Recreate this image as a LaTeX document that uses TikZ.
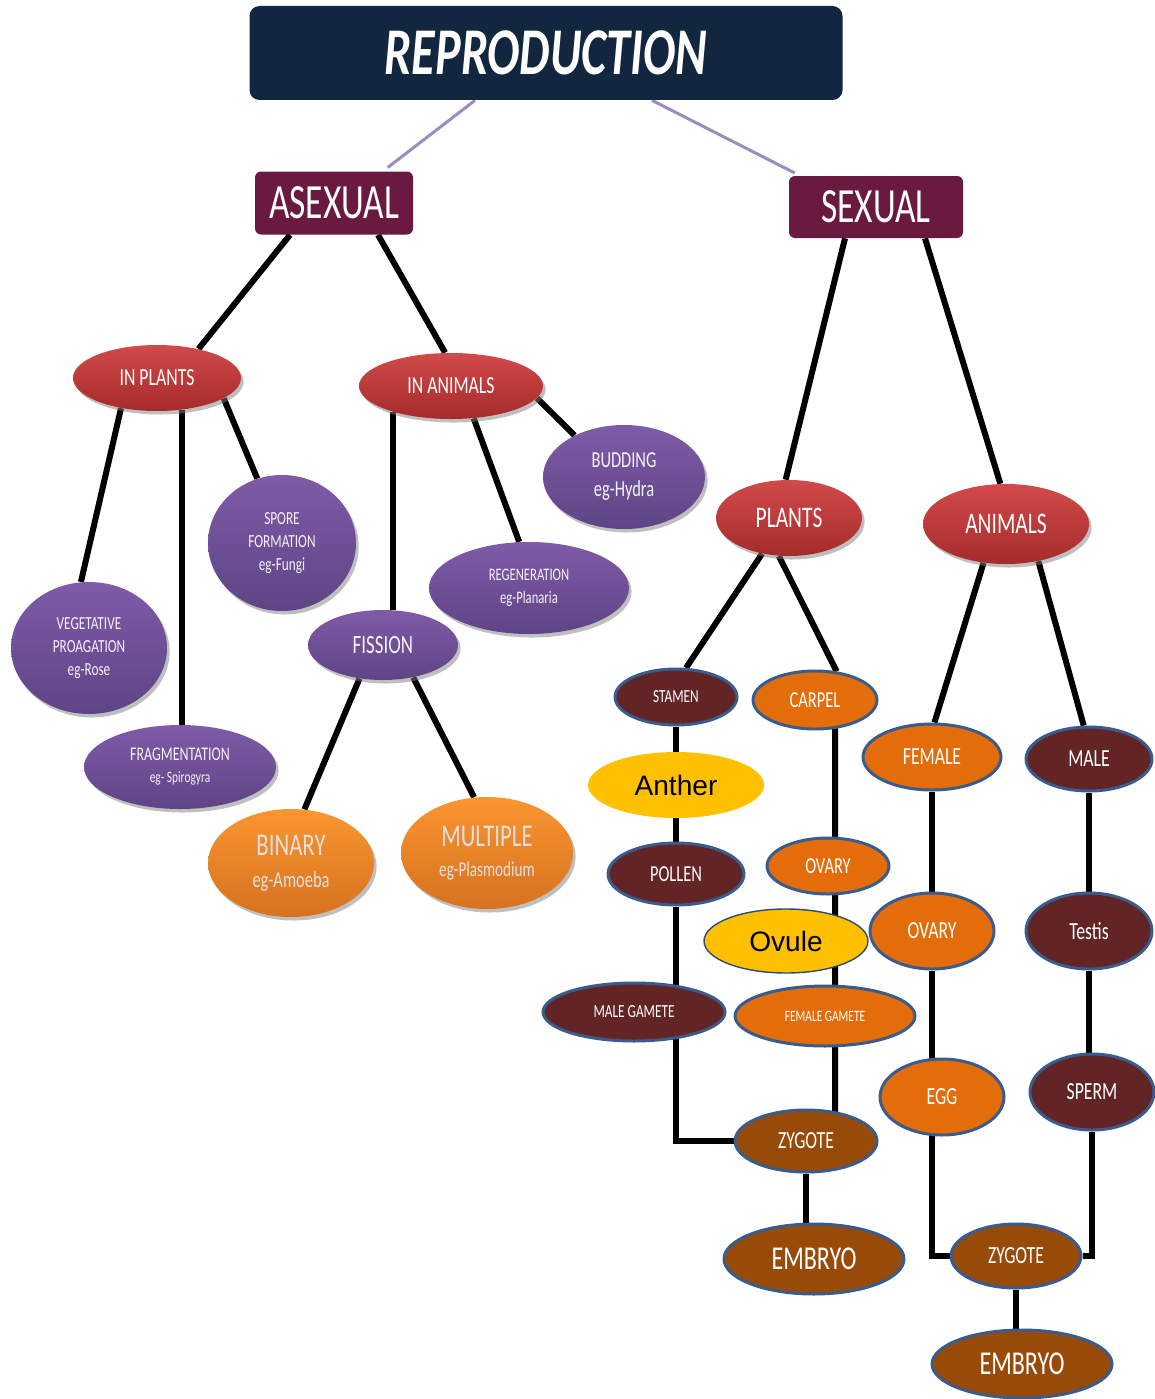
\documentclass[tikz,border=0pt]{standalone}
\usepackage{fontspec}
\setmainfont{Carlito}[FakeStretch=0.72]
\newfontfamily\arialfont{Liberation Sans}
\usepackage{tikz}
\usetikzlibrary{positioning,shapes.geometric,shadows,backgrounds}
\definecolor{repnavy}{HTML}{13263F}
\definecolor{repwine}{HTML}{6A1A40}
\definecolor{repredtop}{HTML}{D24A4A}
\definecolor{repredbot}{HTML}{A52B2B}
\definecolor{reppurtop}{HTML}{7F5BA8}
\definecolor{reppurbot}{HTML}{5E4485}
\definecolor{repsofttop}{HTML}{FA9630}
\definecolor{repsoftbot}{HTML}{D6711F}
\definecolor{repmaroon}{HTML}{622424}
\definecolor{reporange}{HTML}{E36C0B}
\definecolor{repbrown}{HTML}{984A09}
\definecolor{repyellow}{HTML}{FFC000}
\definecolor{repring}{HTML}{3A5C8C}
\definecolor{replav}{HTML}{9A8CBD}
\newcommand\fs[2]{\fontsize{#1}{#2}\selectfont}
\tikzset{
  sz/.style 2 args={minimum width=#1*0.2mm,minimum height=#2*0.2mm},
  headbox/.style={rectangle,rounded corners=2mm,fill=repnavy,text=white,inner sep=0pt,font=\fs{38}{40}\bfseries\itshape},
  catbox/.style={rectangle,rounded corners=1.2mm,fill=repwine,text=white,inner sep=0pt,font=\fs{28}{30}},
  blob/.style={ellipse,inner sep=0pt,align=center},
  halo/.style={drop shadow={shadow xshift=1.5pt,shadow yshift=-2pt,fill=black!50,opacity=.5}},
  redblob/.style={blob,halo,top color=repredtop,bottom color=repredbot,text=white,font=\fs{14}{16}},
  purblob/.style={blob,halo,top color=reppurtop,bottom color=reppurbot,text=white!92!reppurtop},
  softblob/.style={blob,halo,top color=repsofttop,bottom color=repsoftbot,text=black!12},
  ringed/.style={blob,draw=repring,line width=1.7pt,text=white,font=\fs{14}{16}},
  mblob/.style={ringed,fill=repmaroon},
  oblob/.style={ringed,fill=reporange},
  bblob/.style={ringed,fill=repbrown},
  yblob/.style={blob,fill=repyellow,text=black,font=\arialfont\fs{16}{18}},
  ln/.style={draw=black,line width=1.2mm},
  lnl/.style={draw=replav,line width=0.6mm,shorten >=1.2mm},
}
\begin{document}
\begin{tikzpicture}[x=0.2mm,y=-0.2mm]
  \useasboundingbox (0,0) rectangle (1154,1399);
  % top of the map
  \node[headbox,sz={593}{94}] (repro) at (546,53) {REPRODUCTION};
  \node[catbox,sz={158}{63}] (asex) at (334,203) {ASEXUAL};
  \node[catbox,sz={174}{62}] (sex) at (876,207) {SEXUAL};
  % asexual branch
  \node[redblob,sz={168}{66}] (inpl) at (157,378) {IN PLANTS};
  \node[redblob,sz={184}{66}] (inan) at (451,386) {IN ANIMALS};
  \node[purblob,sz={162}{104},font=\fs{13}{16.5}] (bud) at (624,477) {BUDDING\\eg-Hydra};
  \node[purblob,sz={148}{136},font=\fs{10.5}{13}] (spore) at (282,543) {SPORE\\FORMATION\\eg-Fungi};
  \node[purblob,sz={156}{132},font=\fs{10.5}{13}] (veg) at (89,648) {VEGETATIVE\\PROAGATION\\eg-Rose};
  \node[purblob,sz={192}{84},font=\fs{9}{12.5}] (frag) at (180,767) {{\fs{11}{12}FRAGMENTATION}\\eg- Spirogyra};
  \node[purblob,sz={200}{92},font=\fs{10}{13}] (regen) at (529,588) {REGENERATION\\eg-Planaria};
  \node[purblob,sz={150}{70},font=\fs{15}{17}] (fiss) at (383,645) {FISSION};
  \node[softblob,sz={166}{108},font=\fs{13}{18}] (bin) at (291,863) {{\fs{18}{20}BINARY}\\eg-Amoeba};
  \node[softblob,sz={172}{112},font=\fs{12}{17}] (mult) at (487,853) {{\fs{18}{20}MULTIPLE}\\eg-Plasmodium};
  % sexual branch, plants
  \node[redblob,sz={146}{76},font=\fs{17}{20}] (plants) at (789,518) {PLANTS};
  \node[redblob,sz={166}{80},font=\fs{17}{20}] (anim) at (1006,524) {ANIMALS};
  \node[mblob,sz={122}{56},font=\fs{10.5}{12}] (stamen) at (676,697) {STAMEN};
  \node[oblob,sz={124}{58},font=\fs{13}{15}] (carpel) at (815,700) {CARPEL};
  \node[yblob,sz={176}{66}] (anther) at (676,785) {Anther};
  \node[mblob,sz={136}{62},font=\fs{13}{15}] (pollen) at (676,874) {POLLEN};
  \node[oblob,sz={122}{56},font=\fs{13}{15}] (ovary1) at (828,866) {OVARY};
  \node[mblob,sz={182}{58},font=\fs{10.5}{12}] (malegam) at (634,1012) {MALE GAMETE};
  \node[oblob,sz={180}{60},font=\fs{9}{11}] (femgam) at (825,1016) {FEMALE GAMETE};
  \node[bblob,sz={142}{62}] (zyg1) at (806,1141) {ZYGOTE};
  \node[bblob,sz={180}{70},font=\fs{19}{21}] (emb1) at (814,1259) {EMBRYO};
  % sexual branch, animals
  \node[oblob,sz={138}{66}] (female) at (932,757) {FEMALE};
  \node[mblob,sz={126}{64}] (male) at (1089,759) {MALE};
  \node[oblob,sz={124}{76}] (ovary2) at (932,931) {OVARY};
  \node[yblob,draw=repring!80!black,line width=0.8pt,sz={164}{64}] (ovule) at (786,941) {Ovule};
  \node[mblob,sz={126}{76}] (testis) at (1089,931) {Testis};
  \node[oblob,sz={124}{76}] (egg) at (942,1097) {EGG};
  \node[mblob,sz={124}{76}] (sperm) at (1092,1092) {SPERM};
  \node[bblob,sz={130}{64}] (zyg2) at (1016,1256) {ZYGOTE};
  \node[bblob,sz={180}{68},font=\fs{19}{21}] (emb2) at (1022,1364) {EMBRYO};
  \begin{scope}[on background layer]
    \draw[lnl] ([xshift=-14.2mm]repro.south) -- ([xshift=9.8mm]asex.north);
    \draw[lnl] ([xshift=21.2mm]repro.south) -- ([xshift=-15.2mm]sex.north);
    \draw[ln] ([xshift=-8.8mm]asex.south) -- (inpl.35);
    \draw[ln] ([xshift=8.8mm]asex.south) -- (inan.100);
    \draw[ln] (inpl.-140) -- (veg.97);
    \draw[ln] (inpl.-52) -- (inpl.-52 |- frag.north);
    \draw[ln] (inpl.-17) -- (spore.111);
    \draw[ln] (inan.-8) -- (bud.140);
    \draw[ln] (inan.-55) -- (regen.102);
    \draw[ln] (inan.-156) -- (inan.-156 |- fiss.north);
    \draw[ln] (fiss.-125) -- (bin.76);
    \draw[ln] (fiss.-47) -- (mult.103);
    \draw[ln] ([xshift=-6.2mm]sex.south) -- (plants.95);
    \draw[ln] ([xshift=9.8mm]sex.south) -- (anim.98);
    \draw[ln] (plants.-127) -- (stamen.71);
    \draw[ln] (plants.-105) -- (carpel.53);
    \draw[ln] (anim.-120) -- (female.86);
    \draw[ln] (anim.-49) -- (male.99);
    % male and female lines of the plant
    \draw[ln] (stamen) -- (anther);
    \draw[ln] (anther) -- (pollen);
    \draw[ln] (pollen) -- (pollen |- malegam);
    \draw[ln] ([xshift=8.4mm]malegam.center) |- (zyg1.west);
    \draw[ln] ([xshift=4mm]carpel.center) -- ([xshift=1.4mm]ovary1.center);
    \draw[ln] ([xshift=1.4mm]ovary1.center) -- ([xshift=9.8mm]ovule.center);
    \draw[ln] ([xshift=9.8mm]ovule.center) -- ([xshift=2mm]femgam.center);
    \draw[ln] ([xshift=2mm]femgam.center) -- ([xshift=5.8mm]zyg1.center);
    \draw[ln] (zyg1) -- (zyg1 |- emb1);
    % animal lines
    \draw[ln] (female) -- (ovary2);
    \draw[ln] (ovary2) -- (ovary2 |- egg);
    \draw[ln] ([xshift=-2mm]egg.center) |- (zyg2.west);
    \draw[ln] (male) -- (testis);
    \draw[ln] (testis) -- (testis |- sperm);
    \draw[ln] (sperm) |- (zyg2.east);
    \draw[ln] (zyg2) -- (zyg2 |- emb2);
  \end{scope}
\end{tikzpicture}
\end{document}
